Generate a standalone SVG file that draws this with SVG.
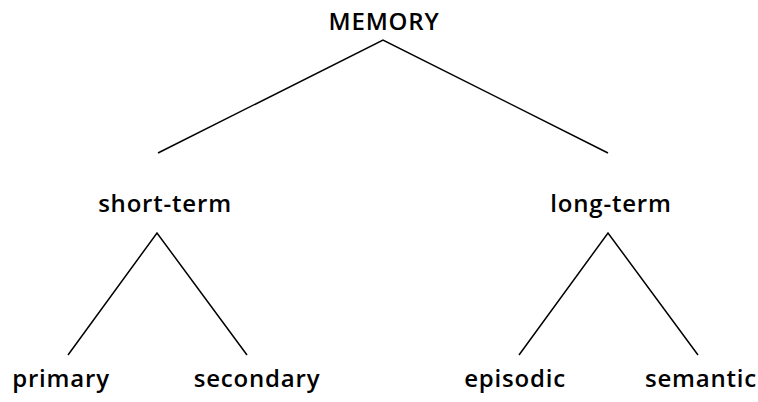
<svg xmlns="http://www.w3.org/2000/svg" width="758" height="402" viewBox="0 0 758 402">
  <style>
    .label { font-family: "Open Sans", "DejaVu Sans", sans-serif; font-weight: 600; font-size: 24px; letter-spacing: 0.8px; fill: #000; text-anchor: middle; }
    .edge { stroke: #000; stroke-width: 1.5; fill: none; }
  </style>
  <rect width="758" height="402" fill="#fff"/>
  <g id="connectors">
    <polyline class="edge" points="158,153 383,40 608,153"/>
    <polyline class="edge" points="68,355 157,233 247,355"/>
    <polyline class="edge" points="519,355 608,233 698,355"/>
  </g>
  <g id="memory"><text class="label" x="384" y="30">MEMORY</text></g>
  <g id="short-term"><text class="label" x="165" y="212">short-term</text></g>
  <g id="long-term"><text class="label" x="611" y="212">long-term</text></g>
  <g id="primary"><text class="label" x="61" y="387">primary</text></g>
  <g id="secondary"><text class="label" x="257" y="387">secondary</text></g>
  <g id="episodic"><text class="label" x="515" y="387">episodic</text></g>
  <g id="semantic"><text class="label" x="701" y="387">semantic</text></g>
</svg>
